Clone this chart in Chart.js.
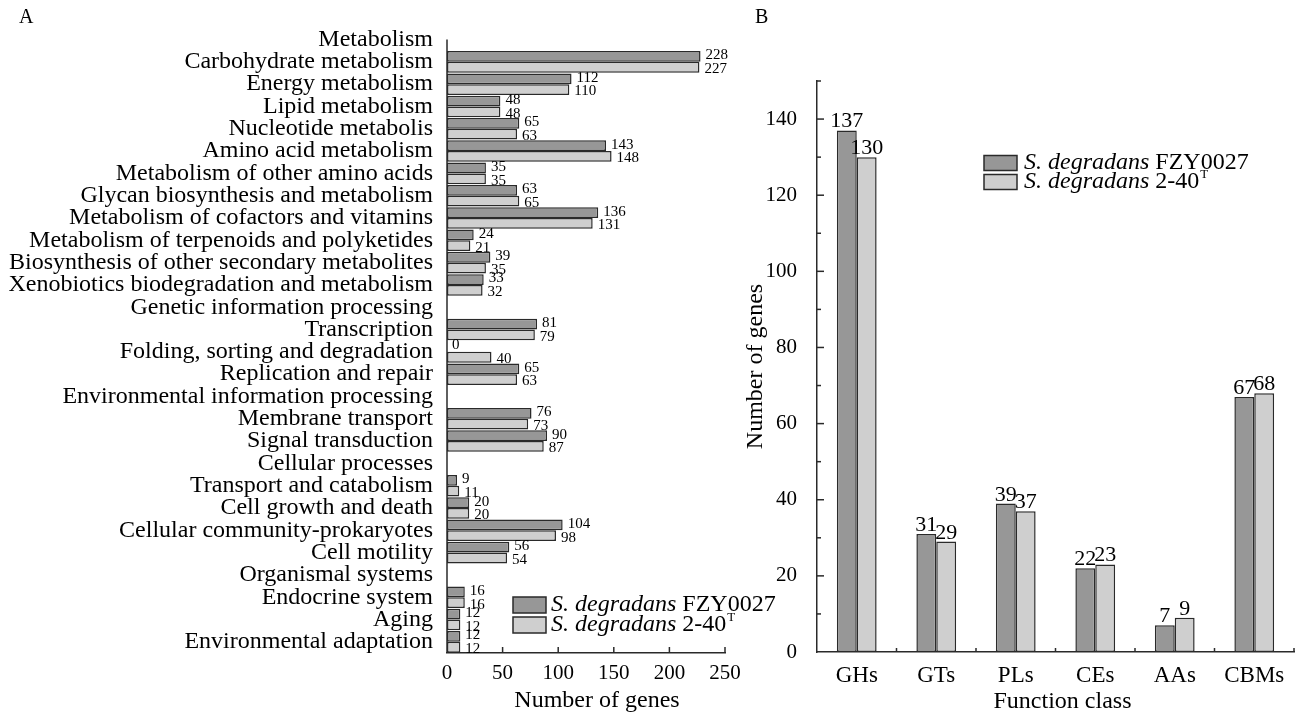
<!DOCTYPE html>
<html><head><meta charset="utf-8">
<script src="https://cdn.jsdelivr.net/npm/chart.js@4.4.0/dist/chart.umd.min.js"></script>
<style>
html,body{margin:0;padding:0;background:#fff;width:1296px;height:717px;overflow:hidden;}
canvas{position:absolute;top:0;}
#cA{left:0;z-index:1;} #cB{left:745px;z-index:2;}
</style></head><body>
<canvas id="cA" width="800" height="717"></canvas>
<canvas id="cB" width="551" height="717"></canvas>
<script>
// ---------- data ----------
const pathwayCategories = [
  'Metabolism','Carbohydrate metabolism','Energy metabolism','Lipid metabolism','Nucleotide metabolis',
  'Amino acid metabolism','Metabolism of other amino acids','Glycan biosynthesis and metabolism',
  'Metabolism of cofactors and vitamins','Metabolism of terpenoids and polyketides',
  'Biosynthesis of other secondary metabolites','Xenobiotics biodegradation and metabolism',
  'Genetic information processing','Transcription','Folding, sorting and degradation','Replication and repair',
  'Environmental information processing','Membrane transport','Signal transduction',
  'Cellular processes','Transport and catabolism','Cell growth and death','Cellular community-prokaryotes','Cell motility',
  'Organismal systems','Endocrine system','Aging','Environmental adaptation'
];
const pathwayFZY0027 = [null,228,112,48,65,143,35,63,136,24,39,33,null,81,0,65,null,76,90,null,9,20,104,56,null,16,12,12];
const pathway240T    = [null,227,110,48,63,148,35,65,131,21,35,32,null,79,40,63,null,73,87,null,11,20,98,54,null,16,12,12];
const pathwayTicks = [0,50,100,150,200,250];

const cazyCategories = ['GHs','GTs','PLs','CEs','AAs','CBMs'];
const cazyFZY0027 = [137,31,39,22,7,67];
const cazy240T    = [130,29,37,23,9,68];
const cazyTicks = [0,20,40,60,80,100,120,140];
const cazyMinorTicks = [10,30,50,70,90,110,130,150];

const seriesLegend = [
  {italic:'S. degradans', normal:' FZY0027', sup:''},
  {italic:'S. degradans', normal:' 2-40', sup:'T'}
];

// ---------- styles ----------
const SERIF = "'Liberation Serif','Times New Roman',serif";
const DARK = '#979797', LIGHT = '#cfcfcf', EDGE = '#2a2a2a';
Chart.defaults.font.family = SERIF;
Chart.defaults.color = '#000';

function drawLegend(ctx, chart, boxX, rows, boxW, boxH, textX, size) {
  chart.data.datasets.forEach((ds, i) => {
    const cy = rows[i];
    ctx.save();
    ctx.fillStyle = ds.backgroundColor;
    ctx.fillRect(boxX, cy - boxH/2, boxW, boxH);
    ctx.strokeStyle = EDGE; ctx.lineWidth = 1.5;
    ctx.strokeRect(boxX, cy - boxH/2, boxW, boxH);
    const p = seriesLegend[i];
    ctx.fillStyle = '#000'; ctx.textBaseline = 'middle'; ctx.textAlign = 'left';
    let x = textX;
    ctx.font = 'italic ' + size + 'px ' + SERIF;
    ctx.fillText(p.italic, x, cy); x += ctx.measureText(p.italic).width;
    ctx.font = size + 'px ' + SERIF;
    ctx.fillText(p.normal, x, cy); x += ctx.measureText(p.normal).width;
    if (p.sup) {
      ctx.font = Math.round(size*0.55) + 'px ' + SERIF;
      ctx.fillText(p.sup, x + 1, cy - size*0.3);
    }
    ctx.restore();
  });
}

// ---------- panel A ----------
const plugA = {
  id: 'plugA',
  afterDraw(chart) {
    const ctx = chart.ctx, a = chart.chartArea;
    const xs = chart.scales.x, ys = chart.scales.y;
    ctx.save();
    ctx.strokeStyle = EDGE; ctx.lineWidth = 1.5;
    ctx.beginPath();
    ctx.moveTo(a.left, ys.getPixelForValue(0));
    ctx.lineTo(a.left, a.bottom);
    ctx.stroke();
    pathwayTicks.forEach(v => {
      if (v === 0) return;
      const px = xs.getPixelForValue(v);
      ctx.beginPath(); ctx.moveTo(px, a.bottom); ctx.lineTo(px, a.bottom - 6); ctx.stroke();
    });
    ctx.fillStyle = '#000'; ctx.font = '15px ' + SERIF;
    ctx.textAlign = 'left'; ctx.textBaseline = 'middle';
    chart.data.datasets.forEach((ds, di) => {
      const meta = chart.getDatasetMeta(di);
      meta.data.forEach((el, i) => {
        const v = ds.data[i];
        if (v === null || v === undefined) return;
        ctx.fillText(String(v), el.x + 5, el.y + (di === 0 ? -1 : 2));
      });
    });
    ctx.font = '24px ' + SERIF; ctx.textAlign = 'center';
    ctx.fillText('Number of genes', 597, 701);
    ctx.font = '20px ' + SERIF; ctx.textAlign = 'left';
    ctx.fillText('A', 19, 18);
    ctx.restore();
    drawLegend(ctx, chart, 513, [605, 625], 33, 16, 551, 24);
  }
};

new Chart(document.getElementById('cA'), {
  type: 'bar',
  data: {
    labels: pathwayCategories,
    datasets: [
      {label: 'S. degradans FZY0027', data: pathwayFZY0027, backgroundColor: DARK, borderColor: EDGE, borderWidth: 1.5, borderSkipped: false, categoryPercentage: 0.967, barPercentage: 1},
      {label: 'S. degradans 2-40T', data: pathway240T, backgroundColor: LIGHT, borderColor: EDGE, borderWidth: 1.5, borderSkipped: false, categoryPercentage: 0.967, barPercentage: 1}
    ]
  },
  options: {
    indexAxis: 'y', responsive: false, animation: false, devicePixelRatio: 1,
    layout: {padding: {top: 16.5, right: 75, left: 0, bottom: 0}},
    plugins: {legend: {display: false}, tooltip: {enabled: false}},
    scales: {
      y: {
        type: 'category', offset: true,
        grid: {display: false, drawTicks: false}, border: {display: false},
        ticks: {autoSkip: false, padding: 14, color: '#000', font: {family: SERIF, size: 24}},
        afterFit(s) { s.width = 447; }
      },
      x: {
        type: 'linear', min: 0, max: 250,
        grid: {display: false, drawTicks: false}, border: {display: true, color: EDGE, width: 1.5},
        ticks: {padding: 8, color: '#000', font: {family: SERIF, size: 21}},
        afterBuildTicks(s) { s.ticks = pathwayTicks.map(v => ({value: v})); },
        afterFit(s) { s.height = 64; }
      }
    }
  },
  plugins: [plugA]
});

// ---------- panel B ----------
const plugB = {
  id: 'plugB',
  afterDraw(chart) {
    const ctx = chart.ctx, a = chart.chartArea;
    const xs = chart.scales.x, ys = chart.scales.y;
    ctx.save();
    ctx.strokeStyle = EDGE; ctx.lineWidth = 1.5;
    cazyTicks.forEach(v => {
      if (v === 0) return;
      const py = ys.getPixelForValue(v);
      ctx.beginPath(); ctx.moveTo(a.left, py); ctx.lineTo(a.left + 7, py); ctx.stroke();
    });
    cazyMinorTicks.forEach(v => {
      const py = ys.getPixelForValue(v);
      ctx.beginPath(); ctx.moveTo(a.left, py); ctx.lineTo(a.left + 4, py); ctx.stroke();
    });
    for (let i = 0; i < cazyCategories.length; i++) {
      const px = i < cazyCategories.length - 1 ? (xs.getPixelForValue(i) + xs.getPixelForValue(i + 1)) / 2 : a.right;
      ctx.beginPath(); ctx.moveTo(px, a.bottom); ctx.lineTo(px, a.bottom - 4); ctx.stroke();
    }
    ctx.fillStyle = '#000'; ctx.font = '22px ' + SERIF;
    ctx.textAlign = 'center'; ctx.textBaseline = 'alphabetic';
    chart.data.datasets.forEach((ds, di) => {
      const meta = chart.getDatasetMeta(di);
      meta.data.forEach((el, i) => {
        ctx.fillText(String(ds.data[i]), el.x, el.y - 3);
      });
    });
    ctx.font = '24px ' + SERIF; ctx.textAlign = 'center'; ctx.textBaseline = 'middle';
    ctx.fillText('Function class', (a.left + a.right) / 2 + 7, 702);
    ctx.save();
    ctx.translate(11, (a.top + a.bottom) / 2);
    ctx.rotate(-Math.PI / 2);
    ctx.fillText('Number of genes', 0, 0);
    ctx.restore();
    ctx.font = '20px ' + SERIF; ctx.textAlign = 'left'; ctx.textBaseline = 'middle';
    ctx.fillText('B', 10, 18);
    ctx.restore();
    drawLegend(ctx, chart, 239, [163, 182], 33, 15, 279, 24);
  }
};

new Chart(document.getElementById('cB'), {
  type: 'bar',
  data: {
    labels: cazyCategories,
    datasets: [
      {label: 'S. degradans FZY0027', data: cazyFZY0027, backgroundColor: DARK, borderColor: EDGE, borderWidth: 1.5, borderSkipped: false, categoryPercentage: 0.5, barPercentage: 1},
      {label: 'S. degradans 2-40T', data: cazy240T, backgroundColor: LIGHT, borderColor: EDGE, borderWidth: 1.5, borderSkipped: false, categoryPercentage: 0.5, barPercentage: 1}
    ]
  },
  options: {
    responsive: false, animation: false, devicePixelRatio: 1,
    layout: {padding: {top: 81, right: 2, left: 0, bottom: 0}},
    plugins: {legend: {display: false}, tooltip: {enabled: false}},
    scales: {
      x: {
        type: 'category', offset: true,
        grid: {display: false, drawTicks: false}, border: {display: true, color: EDGE, width: 1.5},
        ticks: {padding: 10, color: '#000', font: {family: SERIF, size: 23}},
        afterFit(s) { s.height = 65; }
      },
      y: {
        type: 'linear', min: 0, max: 150,
        grid: {display: false, drawTicks: false}, border: {display: true, color: EDGE, width: 1.5},
        ticks: {padding: 20, color: '#000', font: {family: SERIF, size: 21}},
        afterBuildTicks(s) { s.ticks = cazyTicks.map(v => ({value: v})); },
        afterFit(s) { s.width = 72; }
      }
    }
  },
  plugins: [plugB]
});
</script>
</body></html>
